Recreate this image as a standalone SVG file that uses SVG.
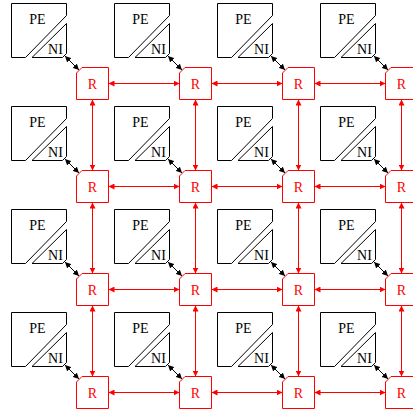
<svg xmlns="http://www.w3.org/2000/svg" width="413" height="414" viewBox="0 0 413 414">
<defs>
<style>
.pe{fill:#fff;stroke:#000;stroke-width:1}
.rb{fill:#fff;stroke:#f00;stroke-width:1}
.t{font-family:"Liberation Serif","Times New Roman",serif;font-size:14px;text-anchor:middle}
.tr{fill:#f00}
.bl{stroke:#000;stroke-width:1;fill:none;marker-start:url(#ab);marker-end:url(#ab)}
.rl{stroke:#f00;stroke-width:1;fill:none;marker-start:url(#ar);marker-end:url(#ar)}
</style>
<marker id="ab" viewBox="0 0 10 10" refX="10" refY="5" markerWidth="6" markerHeight="6" markerUnits="userSpaceOnUse" orient="auto-start-reverse"><path d="M0,0 L10,5 L0,10 z" fill="#000"/></marker>
<marker id="ar" viewBox="0 0 10 10" refX="10" refY="5" markerWidth="6" markerHeight="6" markerUnits="userSpaceOnUse" orient="auto-start-reverse"><path d="M0,0 L10,5 L0,10 z" fill="#f00"/></marker>
</defs>
<rect width="413" height="414" fill="#fff"/>
<g id="connectors">
<line class="bl" x1="65" y1="56" x2="79" y2="70"/>
<line class="bl" x1="168" y1="56" x2="182" y2="70"/>
<line class="bl" x1="271" y1="56" x2="285" y2="70"/>
<line class="bl" x1="374" y1="56" x2="388" y2="70"/>
<line class="bl" x1="65" y1="159" x2="79" y2="173"/>
<line class="bl" x1="168" y1="159" x2="182" y2="173"/>
<line class="bl" x1="271" y1="159" x2="285" y2="173"/>
<line class="bl" x1="374" y1="159" x2="388" y2="173"/>
<line class="bl" x1="65" y1="262" x2="79" y2="276"/>
<line class="bl" x1="168" y1="262" x2="182" y2="276"/>
<line class="bl" x1="271" y1="262" x2="285" y2="276"/>
<line class="bl" x1="374" y1="262" x2="388" y2="276"/>
<line class="bl" x1="65" y1="365" x2="79" y2="379"/>
<line class="bl" x1="168" y1="365" x2="182" y2="379"/>
<line class="bl" x1="271" y1="365" x2="285" y2="379"/>
<line class="bl" x1="374" y1="365" x2="388" y2="379"/>
<line class="rl" x1="108.5" y1="83.5" x2="179.5" y2="83.5"/>
<line class="rl" x1="211.5" y1="83.5" x2="282.5" y2="83.5"/>
<line class="rl" x1="314.5" y1="83.5" x2="385.5" y2="83.5"/>
<line class="rl" x1="108.5" y1="186.5" x2="179.5" y2="186.5"/>
<line class="rl" x1="211.5" y1="186.5" x2="282.5" y2="186.5"/>
<line class="rl" x1="314.5" y1="186.5" x2="385.5" y2="186.5"/>
<line class="rl" x1="108.5" y1="289.5" x2="179.5" y2="289.5"/>
<line class="rl" x1="211.5" y1="289.5" x2="282.5" y2="289.5"/>
<line class="rl" x1="314.5" y1="289.5" x2="385.5" y2="289.5"/>
<line class="rl" x1="108.5" y1="392.5" x2="179.5" y2="392.5"/>
<line class="rl" x1="211.5" y1="392.5" x2="282.5" y2="392.5"/>
<line class="rl" x1="314.5" y1="392.5" x2="385.5" y2="392.5"/>
<line class="rl" x1="92.5" y1="99.5" x2="92.5" y2="170.5"/>
<line class="rl" x1="92.5" y1="202.5" x2="92.5" y2="273.5"/>
<line class="rl" x1="92.5" y1="305.5" x2="92.5" y2="376.5"/>
<line class="rl" x1="195.5" y1="99.5" x2="195.5" y2="170.5"/>
<line class="rl" x1="195.5" y1="202.5" x2="195.5" y2="273.5"/>
<line class="rl" x1="195.5" y1="305.5" x2="195.5" y2="376.5"/>
<line class="rl" x1="298.5" y1="99.5" x2="298.5" y2="170.5"/>
<line class="rl" x1="298.5" y1="202.5" x2="298.5" y2="273.5"/>
<line class="rl" x1="298.5" y1="305.5" x2="298.5" y2="376.5"/>
<line class="rl" x1="401.5" y1="99.5" x2="401.5" y2="170.5"/>
<line class="rl" x1="401.5" y1="202.5" x2="401.5" y2="273.5"/>
<line class="rl" x1="401.5" y1="305.5" x2="401.5" y2="376.5"/>
</g>
<g id="pe00" transform="translate(11.5,3.5)"><path class="pe" d="M0,0H55V12L14,54H0Z"/><path class="pe" d="M55,20V50L51,54H20.5Z"/><text class="t" x="26" y="20.5">PE</text><text class="t" x="44" y="50">NI</text></g>
<g id="pe10" transform="translate(114.5,3.5)"><path class="pe" d="M0,0H55V12L14,54H0Z"/><path class="pe" d="M55,20V50L51,54H20.5Z"/><text class="t" x="26" y="20.5">PE</text><text class="t" x="44" y="50">NI</text></g>
<g id="pe20" transform="translate(217.5,3.5)"><path class="pe" d="M0,0H55V12L14,54H0Z"/><path class="pe" d="M55,20V50L51,54H20.5Z"/><text class="t" x="26" y="20.5">PE</text><text class="t" x="44" y="50">NI</text></g>
<g id="pe30" transform="translate(320.5,3.5)"><path class="pe" d="M0,0H55V12L14,54H0Z"/><path class="pe" d="M55,20V50L51,54H20.5Z"/><text class="t" x="26" y="20.5">PE</text><text class="t" x="44" y="50">NI</text></g>
<g id="pe01" transform="translate(11.5,106.5)"><path class="pe" d="M0,0H55V12L14,54H0Z"/><path class="pe" d="M55,20V50L51,54H20.5Z"/><text class="t" x="26" y="20.5">PE</text><text class="t" x="44" y="50">NI</text></g>
<g id="pe11" transform="translate(114.5,106.5)"><path class="pe" d="M0,0H55V12L14,54H0Z"/><path class="pe" d="M55,20V50L51,54H20.5Z"/><text class="t" x="26" y="20.5">PE</text><text class="t" x="44" y="50">NI</text></g>
<g id="pe21" transform="translate(217.5,106.5)"><path class="pe" d="M0,0H55V12L14,54H0Z"/><path class="pe" d="M55,20V50L51,54H20.5Z"/><text class="t" x="26" y="20.5">PE</text><text class="t" x="44" y="50">NI</text></g>
<g id="pe31" transform="translate(320.5,106.5)"><path class="pe" d="M0,0H55V12L14,54H0Z"/><path class="pe" d="M55,20V50L51,54H20.5Z"/><text class="t" x="26" y="20.5">PE</text><text class="t" x="44" y="50">NI</text></g>
<g id="pe02" transform="translate(11.5,209.5)"><path class="pe" d="M0,0H55V12L14,54H0Z"/><path class="pe" d="M55,20V50L51,54H20.5Z"/><text class="t" x="26" y="20.5">PE</text><text class="t" x="44" y="50">NI</text></g>
<g id="pe12" transform="translate(114.5,209.5)"><path class="pe" d="M0,0H55V12L14,54H0Z"/><path class="pe" d="M55,20V50L51,54H20.5Z"/><text class="t" x="26" y="20.5">PE</text><text class="t" x="44" y="50">NI</text></g>
<g id="pe22" transform="translate(217.5,209.5)"><path class="pe" d="M0,0H55V12L14,54H0Z"/><path class="pe" d="M55,20V50L51,54H20.5Z"/><text class="t" x="26" y="20.5">PE</text><text class="t" x="44" y="50">NI</text></g>
<g id="pe32" transform="translate(320.5,209.5)"><path class="pe" d="M0,0H55V12L14,54H0Z"/><path class="pe" d="M55,20V50L51,54H20.5Z"/><text class="t" x="26" y="20.5">PE</text><text class="t" x="44" y="50">NI</text></g>
<g id="pe03" transform="translate(11.5,312.5)"><path class="pe" d="M0,0H55V12L14,54H0Z"/><path class="pe" d="M55,20V50L51,54H20.5Z"/><text class="t" x="26" y="20.5">PE</text><text class="t" x="44" y="50">NI</text></g>
<g id="pe13" transform="translate(114.5,312.5)"><path class="pe" d="M0,0H55V12L14,54H0Z"/><path class="pe" d="M55,20V50L51,54H20.5Z"/><text class="t" x="26" y="20.5">PE</text><text class="t" x="44" y="50">NI</text></g>
<g id="pe23" transform="translate(217.5,312.5)"><path class="pe" d="M0,0H55V12L14,54H0Z"/><path class="pe" d="M55,20V50L51,54H20.5Z"/><text class="t" x="26" y="20.5">PE</text><text class="t" x="44" y="50">NI</text></g>
<g id="pe33" transform="translate(320.5,312.5)"><path class="pe" d="M0,0H55V12L14,54H0Z"/><path class="pe" d="M55,20V50L51,54H20.5Z"/><text class="t" x="26" y="20.5">PE</text><text class="t" x="44" y="50">NI</text></g>
<g id="r00" transform="translate(76.5,67.5)"><path class="rb" d="M0,5.5L5.5,0H32V32H0Z"/><text class="t tr" x="16" y="21.5">R</text></g>
<g id="r10" transform="translate(179.5,67.5)"><path class="rb" d="M0,5.5L5.5,0H32V32H0Z"/><text class="t tr" x="16" y="21.5">R</text></g>
<g id="r20" transform="translate(282.5,67.5)"><path class="rb" d="M0,5.5L5.5,0H32V32H0Z"/><text class="t tr" x="16" y="21.5">R</text></g>
<g id="r30" transform="translate(385.5,67.5)"><path class="rb" d="M0,5.5L5.5,0H32V32H0Z"/><text class="t tr" x="16" y="21.5">R</text></g>
<g id="r01" transform="translate(76.5,170.5)"><path class="rb" d="M0,5.5L5.5,0H32V32H0Z"/><text class="t tr" x="16" y="21.5">R</text></g>
<g id="r11" transform="translate(179.5,170.5)"><path class="rb" d="M0,5.5L5.5,0H32V32H0Z"/><text class="t tr" x="16" y="21.5">R</text></g>
<g id="r21" transform="translate(282.5,170.5)"><path class="rb" d="M0,5.5L5.5,0H32V32H0Z"/><text class="t tr" x="16" y="21.5">R</text></g>
<g id="r31" transform="translate(385.5,170.5)"><path class="rb" d="M0,5.5L5.5,0H32V32H0Z"/><text class="t tr" x="16" y="21.5">R</text></g>
<g id="r02" transform="translate(76.5,273.5)"><path class="rb" d="M0,5.5L5.5,0H32V32H0Z"/><text class="t tr" x="16" y="21.5">R</text></g>
<g id="r12" transform="translate(179.5,273.5)"><path class="rb" d="M0,5.5L5.5,0H32V32H0Z"/><text class="t tr" x="16" y="21.5">R</text></g>
<g id="r22" transform="translate(282.5,273.5)"><path class="rb" d="M0,5.5L5.5,0H32V32H0Z"/><text class="t tr" x="16" y="21.5">R</text></g>
<g id="r32" transform="translate(385.5,273.5)"><path class="rb" d="M0,5.5L5.5,0H32V32H0Z"/><text class="t tr" x="16" y="21.5">R</text></g>
<g id="r03" transform="translate(76.5,376.5)"><path class="rb" d="M0,5.5L5.5,0H32V32H0Z"/><text class="t tr" x="16" y="21.5">R</text></g>
<g id="r13" transform="translate(179.5,376.5)"><path class="rb" d="M0,5.5L5.5,0H32V32H0Z"/><text class="t tr" x="16" y="21.5">R</text></g>
<g id="r23" transform="translate(282.5,376.5)"><path class="rb" d="M0,5.5L5.5,0H32V32H0Z"/><text class="t tr" x="16" y="21.5">R</text></g>
<g id="r33" transform="translate(385.5,376.5)"><path class="rb" d="M0,5.5L5.5,0H32V32H0Z"/><text class="t tr" x="16" y="21.5">R</text></g>
</svg>
